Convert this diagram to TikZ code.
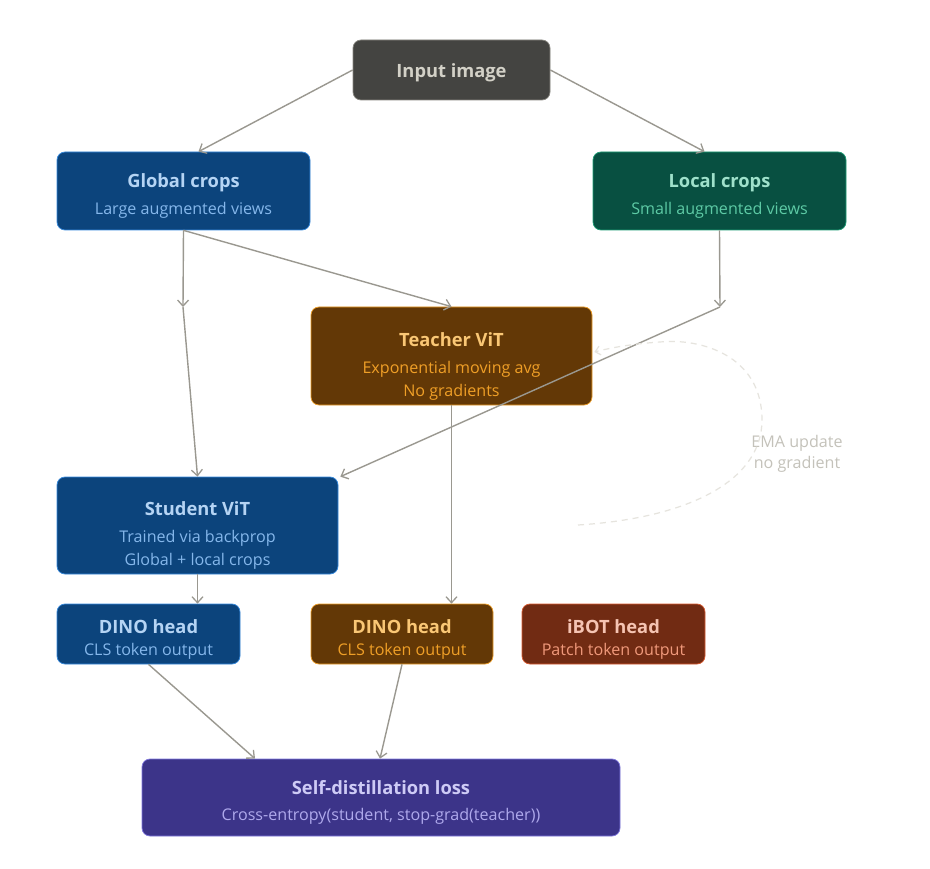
\documentclass[tikz,border=0pt]{standalone}
\usepackage{fontspec}
\setmainfont{Open Sans}
\usetikzlibrary{arrows.meta}
\definecolor{edgec}{HTML}{9A9890}
\definecolor{grayF}{HTML}{444441}\definecolor{grayB}{HTML}{888780}\definecolor{grayT}{HTML}{D3D1C7}
\definecolor{blueF}{HTML}{0C447C}\definecolor{blueB}{HTML}{378ADD}\definecolor{blueT}{HTML}{B5D4F4}\definecolor{blueS}{HTML}{85B7EB}
\definecolor{tealF}{HTML}{085041}\definecolor{tealB}{HTML}{1D9E75}\definecolor{tealT}{HTML}{9FE1CB}\definecolor{tealS}{HTML}{5DCAA5}
\definecolor{ambF}{HTML}{633806}\definecolor{ambB}{HTML}{EF9F27}\definecolor{ambT}{HTML}{FAC775}\definecolor{ambS}{HTML}{EF9F27}
\definecolor{corF}{HTML}{712B13}\definecolor{corB}{HTML}{D85A30}\definecolor{corT}{HTML}{F5C4B3}\definecolor{corS}{HTML}{F0997B}
\definecolor{purF}{HTML}{3C3489}\definecolor{purB}{HTML}{7F77DD}\definecolor{purT}{HTML}{CECBF6}\definecolor{purS}{HTML}{AFA9EC}
\definecolor{emaC}{HTML}{E6E4DE}\definecolor{emaT}{HTML}{C4C2BA}
\tikzset{
  box/.style={rectangle, rounded corners=8pt, line width=0.7pt, inner sep=0pt},
  txt/.style={align=center, inner sep=0pt, font=\fontsize{16.1}{22}\selectfont},
  conn/.style={draw=edgec, line width=1.4pt, -{Straight Barb[length=6pt,width=11pt,line width=1.3pt]}},
  ema/.style={draw=emaC, line width=1.2pt, dash pattern=on 6pt off 5pt, -{Straight Barb[length=5pt,width=9pt]}},
}
\newcommand{\mytl}[2]{{\color{#1}\fontsize{18.3}{22}\selectfont\bfseries #2}}
\newcommand{\mysl}[2]{{\color{#1}#2}}
\begin{document}
\begin{tikzpicture}[x=1pt,y=-1pt]
\useasboundingbox[fill=white] (0,0) rectangle (930,869);
\node[box, fill=grayF, draw=grayB, minimum width=197pt, minimum height=60pt] (input) at (451.5,70) {};
\node[txt] (inputt) at ([yshift=-3pt]input.center) {\mytl{grayT}{Input image}};
\node[box, fill=blueF, draw=blueB, minimum width=253pt, minimum height=78pt] (global) at (183.5,191) {};
\node[txt] (globalt) at ([yshift=-5pt]global.center) {\mytl{blueT}{Global crops}\\[5pt]\mysl{blueS}{Large augmented views}};
\node[box, fill=tealF, draw=tealB, minimum width=253pt, minimum height=78pt] (local) at (719.5,191) {};
\node[txt] (localt) at ([yshift=-5pt]local.center) {\mytl{tealT}{Local crops}\\[5pt]\mysl{tealS}{Small augmented views}};
\node[box, fill=ambF, draw=ambB, minimum width=281pt, minimum height=98pt] (teacher) at (451.5,356) {};
\node[txt] (teachert) at ([yshift=-10pt]teacher.center) {\mytl{ambT}{Teacher ViT}\\[5pt]\mysl{ambS}{Exponential moving avg}\\[1pt]\mysl{ambS}{No gradients}};
\node[box, fill=blueF, draw=blueB, minimum width=281pt, minimum height=97pt] (student) at (197.5,525.5) {};
\node[txt] (studentt) at ([yshift=-10pt]student.center) {\mytl{blueT}{Student ViT}\\[5pt]\mysl{blueS}{Trained via backprop}\\[1pt]\mysl{blueS}{Global + local crops}};
\node[box, fill=blueF, draw=blueB, minimum width=183pt, minimum height=60pt] (sdino) at (148.5,634) {};
\node[txt] (sdinot) at ([yshift=-5pt]sdino.center) {\mytl{blueT}{DINO head}\\[0pt]\mysl{blueS}{CLS token output}};
\node[box, fill=ambF, draw=ambB, minimum width=182pt, minimum height=60pt] (tdino) at (402,634) {};
\node[txt] (tdinot) at ([yshift=-5pt]tdino.center) {\mytl{ambT}{DINO head}\\[0pt]\mysl{ambS}{CLS token output}};
\node[box, fill=corF, draw=corB, minimum width=183pt, minimum height=60pt] (ibot) at (613.5,634) {};
\node[txt] (ibott) at ([yshift=-5pt]ibot.center) {\mytl{corT}{iBOT head}\\[0pt]\mysl{corS}{Patch token output}};
\node[box, fill=purF, draw=purB, minimum width=478pt, minimum height=77pt] (loss) at (381,797.5) {};
\node[txt] (losst) at ([yshift=-5pt]loss.center) {\mytl{purT}{Self-distillation loss}\\[4pt]\mysl{purS}{Cross-entropy(student, stop-grad(teacher))}};
\node[txt, font=\fontsize{16.1}{21}\selectfont] (emalbl) at (797,454) {\mysl{emaT}{EMA update}\\\mysl{emaT}{no gradient}};
\coordinate (gmid) at (183,307);
\coordinate (lmid) at (720,307);
\coordinate (emaS) at (578,525);
\draw[conn] (input.west) -- ([xshift=15pt]global.north);
\draw[conn] (input.east) -- ([xshift=-15pt]local.north);
\draw[conn] (global.south) -- (gmid);
\draw[conn] (gmid) -- (student.north);
\draw[conn] (global.south) -- (teacher.north);
\draw[conn] (local.south) -- (lmid);
\draw[conn] (lmid) -- ([xshift=2pt]student.north east);
\draw[conn] (teacher.south) -- (teacher.south |- tdino.north);
\draw[conn] (student.south) -- (student.south |- sdino.north);
\draw[conn] (sdino.south) -- ([xshift=-126pt]loss.north);
\draw[conn] (tdino.south) -- ([xshift=-1pt]loss.north);
\draw[ema] (emaS) .. controls (690,518) and (762,480) .. (762,420) .. controls (762,355) and (700,338) .. (660,342) .. controls (630,344) and (610,348) .. ([xshift=2pt]teacher.east |- 0,352);
\end{tikzpicture}
\end{document}
